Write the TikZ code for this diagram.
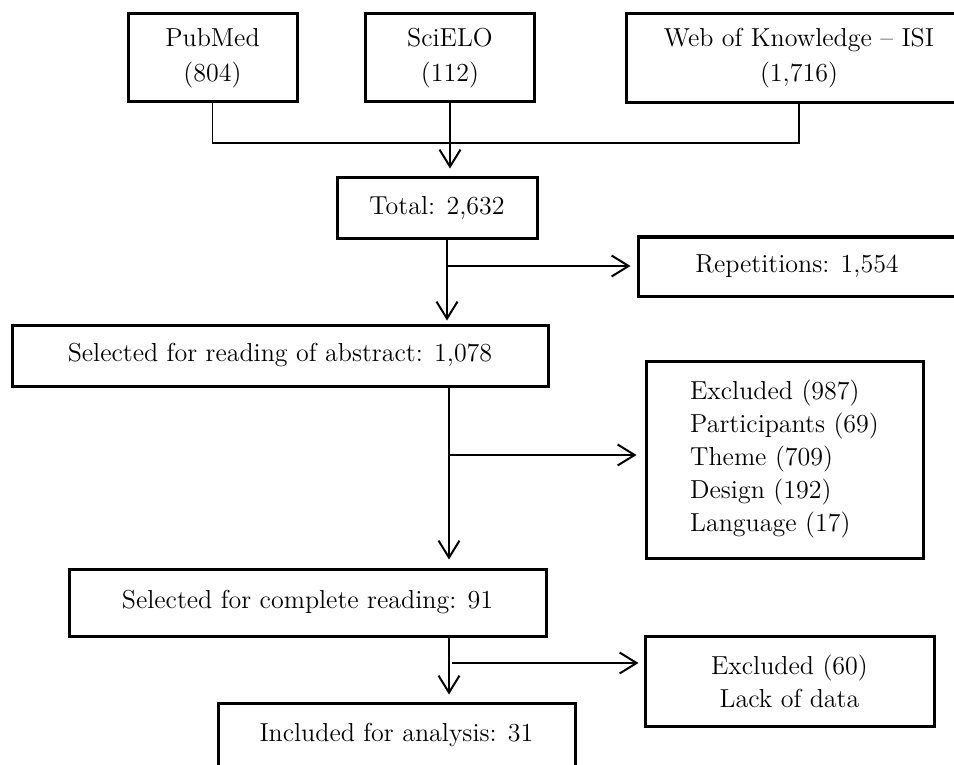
\documentclass[tikz,border=0pt]{standalone}
\usetikzlibrary{arrows.meta}
\tikzstyle{box}=[rectangle, draw, line width=1.5pt, inner sep=0pt, align=center, font=\fontsize{13}{16.5}\selectfont]
\tikzstyle{arr}=[line width=1pt, -{Straight Barb[length=8.5pt,width=10.5pt]}, shorten >=4pt]

\begin{document}
\begin{tikzpicture}[x=0.5pt, y=-0.5pt]
    \useasboundingbox (0,0) rectangle (954,765);
    \clip (0,0) rectangle (954,765);
    \node[box, minimum width=84.5pt, minimum height=44pt, font=\fontsize{13}{17.5}\selectfont] (pubmed) at (212.5,58) {PubMed\\(804)};
    \node[box, minimum width=84.5pt, minimum height=44pt, font=\fontsize{13}{17.5}\selectfont] (scielo) at (450,58) {SciELO\\(112)};
    \node[box, minimum width=173pt, minimum height=44.5pt, font=\fontsize{13}{17.5}\selectfont] (wok) at (799,58.5) {Web of Knowledge -- ISI\\(1,716)};
    \node[box, minimum width=100pt, minimum height=30pt] (total) at (437,208) {Total: 2,632};
    \node[box, minimum width=159pt, minimum height=29.5pt] (reps) at (797,266.5) {Repetitions: 1,554};
    \node[box, minimum width=268pt, minimum height=30.5pt] (abstract) at (280,355.5) {Selected for reading of abstract: 1,078};
    \node[box, minimum width=138.5pt, minimum height=98.5pt, align=left] (excl) at (784.5,459.5) {Excluded (987)\\Participants (69)\\Theme (709)\\Design (192)\\Language (17)};
    \node[box, minimum width=238.5pt, minimum height=33.5pt] (complete) at (307.5,602.5) {Selected for complete reading: 91};
    \node[box, minimum width=144.5pt, minimum height=45pt] (lack) at (789.5,681) {Excluded (60)\\Lack of data};
    \node[box, minimum width=178.5pt, text height=19pt, text depth=24pt, anchor=base] (included) at (396.5,741) {Included for analysis: 31};
    \coordinate (j) at (450,143);
    \coordinate (s1) at (447,266);
    \coordinate (s2) at (449,455);
    \coordinate (s3) at (449,663);
    \draw[line width=0.8pt] (pubmed.south) |- (j) -| (wok.south);
    \draw[arr] (scielo.south) -- (scielo.south |- total.north);
    \draw[arr, shorten >=1.5pt] (total.south -| s1) -- (abstract.north -| s1);
    \draw[arr, shorten >=3pt] (s1) -- (s1 -| reps.west);
    \draw[arr] (abstract.south -| s2) -- (complete.north -| s2);
    \draw[arr] (s2) -- (s2 -| excl.west);
    \draw[arr, shorten >=3.5pt] (complete.south -| s3) -- (included.north -| s3);
    \draw[arr, shorten >=2.5pt] ([xshift=1.5pt]s3) -- (s3 -| lack.west);
\end{tikzpicture}
\end{document}
